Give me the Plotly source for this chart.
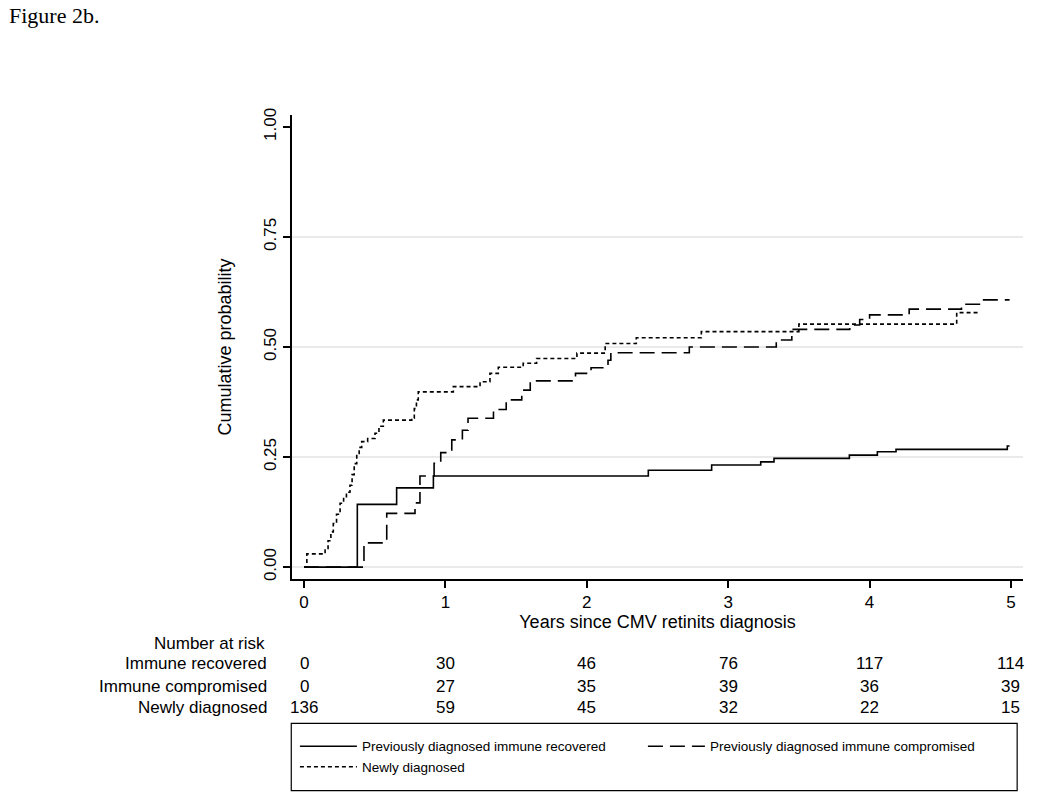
import plotly.graph_objects as go

# ---- data ----
recovered_t = [0, 0.377, 0.655, 0.915, 2.435, 2.883, 3.23, 3.324, 3.857, 4.055, 4.187, 4.974, 4.99]
recovered_p = [0, 0.1425, 0.18, 0.207, 0.220, 0.232, 0.239, 0.247, 0.2545, 0.262, 0.2675, 0.275, 0.275]

compromised_t = [0, 0.424, 0.585, 0.785, 0.82, 0.92, 0.967, 1.045, 1.12, 1.16, 1.34, 1.43, 1.54, 1.60,
                 1.92, 2.03, 2.15, 2.17, 2.725, 3.34, 3.45, 3.46, 3.86, 3.93, 4.0, 4.28, 4.65, 4.80, 4.99]
compromised_p = [0, 0.055, 0.122, 0.146, 0.207, 0.236, 0.26, 0.289, 0.311, 0.338, 0.358, 0.38, 0.402, 0.423,
                 0.44, 0.453, 0.47, 0.487, 0.50, 0.516, 0.531, 0.54, 0.55, 0.5625, 0.573, 0.586, 0.597, 0.607, 0.607]

newly_t = [0, 0.02, 0.149, 0.17, 0.19, 0.207, 0.23, 0.255, 0.28, 0.30, 0.325, 0.34, 0.355, 0.373, 0.39, 0.408,
           0.45, 0.502, 0.53, 0.561, 0.762, 0.78, 0.795, 0.808, 1.056, 1.245, 1.315, 1.374, 1.55, 1.645,
           1.93, 2.13, 2.35, 2.81, 3.50, 4.616, 4.78]
newly_p = [0, 0.03, 0.039, 0.06, 0.08, 0.099, 0.12, 0.145, 0.16, 0.17, 0.186, 0.21, 0.235, 0.258, 0.272, 0.285,
           0.292, 0.304, 0.32, 0.334, 0.338, 0.36, 0.38, 0.398, 0.41, 0.421, 0.44, 0.454, 0.463, 0.474,
           0.486, 0.508, 0.521, 0.535, 0.552, 0.578, 0.578]

series_names = ["Previously diagnosed immune recovered",
                "Previously diagnosed immune compromised",
                "Newly diagnosed"]

x_ticks = [0, 1, 2, 3, 4, 5]
y_ticks = [0, 0.25, 0.5, 0.75, 1.0]
y_tick_labels = ["0.00", "0.25", "0.50", "0.75", "1.00"]

risk_times = [0, 1, 2, 3, 4, 5]
risk_labels = ["Immune recovered", "Immune compromised", "Newly diagnosed"]
risk_recovered = [0, 30, 46, 76, 117, 114]
risk_compromised = [0, 27, 35, 39, 36, 39]
risk_newly = [136, 59, 45, 32, 22, 15]

FONT = "Liberation Sans, Arial, sans-serif"

fig = go.Figure()
styles = [
    dict(color="black", width=1.6, dash="solid"),
    dict(color="black", width=1.6, dash="15px,7px"),
    dict(color="black", width=1.6, dash="4px,3px"),
]
for t, p, name, st in zip([recovered_t, compromised_t, newly_t],
                          [recovered_p, compromised_p, newly_p],
                          series_names, styles):
    fig.add_trace(go.Scatter(x=t, y=p, mode="lines", name=name,
                             line=dict(shape="hv", **st)))

# light horizontal grid lines (no line at the top tick)
shapes = []
for v in y_ticks[:-1]:
    shapes.append(dict(type="line", xref="paper", yref="y", x0=0, x1=1, y0=v, y1=v,
                       line=dict(color="#e3e3e3", width=1.5), layer="below"))
# legend frame
shapes.append(dict(type="rect", xref="paper", yref="paper", x0=-0.001, x1=0.992,
                   y0=-0.456, y1=-0.311, line=dict(color="black", width=1.2),
                   fillcolor="rgba(0,0,0,0)"))

annotations = [
    dict(text="Figure 2b.", xref="paper", yref="paper", x=-0.390, y=1.2155,
         xanchor="left", yanchor="middle", showarrow=False,
         font=dict(family="Liberation Serif, Times New Roman, serif", size=22, color="black")),
    dict(text="Number at risk", xref="paper", yref="paper", x=-0.034, y=-0.138,
         xanchor="right", yanchor="middle", showarrow=False,
         font=dict(family=FONT, size=17, color="black")),
]
row_y = [-0.183, -0.231, -0.278]
for lab, vals, ry in zip(risk_labels, [risk_recovered, risk_compromised, risk_newly], row_y):
    annotations.append(dict(text=lab, xref="paper", yref="paper", x=-0.032, y=ry,
                            xanchor="right", yanchor="middle", showarrow=False,
                            font=dict(family=FONT, size=17, color="black")))
    for t, v in zip(risk_times, vals):
        annotations.append(dict(text=str(v), xref="x", yref="paper", x=t, y=ry,
                                xanchor="center", yanchor="middle", showarrow=False,
                                font=dict(family=FONT, size=17, color="black")))

fig.update_layout(
    width=1050, height=802,
    margin=dict(l=292, r=27, t=115, b=223),
    paper_bgcolor="white", plot_bgcolor="white",
    font=dict(family=FONT, size=17, color="black"),
    shapes=shapes,
    annotations=annotations,
    showlegend=True,
    legend=dict(orientation="h", x=0.004, y=-0.3835, xanchor="left", yanchor="middle",
                borderwidth=0, bgcolor="rgba(0,0,0,0)",
                font=dict(family=FONT, size=13.5, color="black"),
                itemwidth=57,
                entrywidth=276, entrywidthmode="pixels", traceorder="normal"),
    xaxis=dict(range=[-0.085, 5.085], tickmode="array", tickvals=x_ticks,
               ticks="outside", ticklen=7, tickwidth=1.5, tickcolor="black",
               showline=True, linecolor="black", linewidth=1.5,
               showgrid=False, zeroline=False,
               tickfont=dict(size=17),
               title=dict(text="Years since CMV retinits diagnosis", standoff=0,
                          font=dict(size=18))),
    yaxis=dict(range=[-0.027, 1.027], tickmode="array", tickvals=y_ticks,
               ticktext=y_tick_labels, tickangle=-90,
               ticks="outside", ticklen=7, tickwidth=1.5, tickcolor="black",
               showline=True, linecolor="black", linewidth=1.5,
               showgrid=False, zeroline=False,
               tickfont=dict(size=17),
               title=dict(text="Cumulative probability", standoff=25,
                          font=dict(size=18))),
)

fig.write_html("out.html", config={"displayModeBar": False},
               post_script="document.body.style.margin='0px';")
